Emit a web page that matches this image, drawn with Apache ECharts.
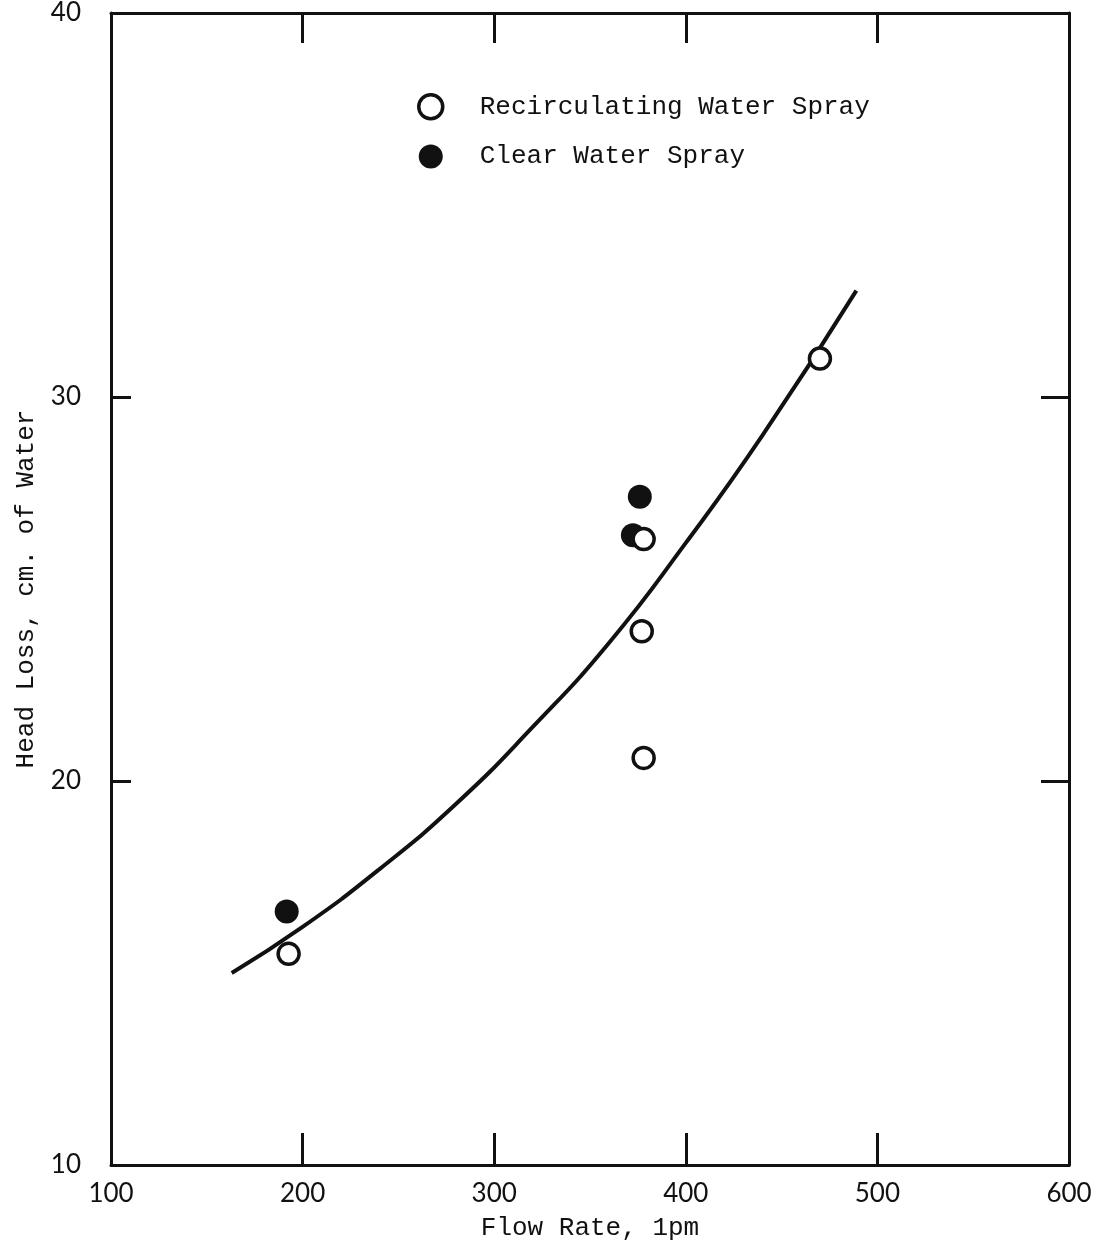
<!DOCTYPE html>
<html>
<head>
<meta charset="utf-8">
<script src="https://cdn.jsdelivr.net/npm/echarts@6/dist/echarts.min.js"></script>
<style>
html,body{margin:0;padding:0;background:#fff;}
#chart{width:1103px;height:1251px;}
</style>
</head>
<body>
<div id="chart"></div>
<script>
// ---- data ----
var xTicks = [100, 200, 300, 400, 500, 600];
var yTicks = [10, 20, 30, 40];
var recircX = [192.7, 378, 377, 378, 470];
var recircY = [15.5, 26.3, 23.9, 20.6, 31.0];
var clearX = [191.7, 376, 372.4];
var clearY = [16.6, 27.4, 26.4];
var curveX = [163, 200, 240, 280, 320, 360, 400, 440, 489];
var curveY = [15.0, 16.2, 17.7, 19.4, 21.4, 23.6, 26.2, 29.0, 32.77];
var seriesNames = ['Recirculating Water Spray', 'Clear Water Spray'];
var xTitle = 'Flow Rate, 1pm';
var yTitle = 'Head Loss, cm. of Water';

function pairs(xs, ys){ return xs.map(function(x,i){ return [x, ys[i]]; }); }

var mono = '"Liberation Mono","Courier New","DejaVu Sans Mono",monospace';
var sans = 'Lato,"Open Sans","DejaVu Sans",sans-serif';
var ink = '#111';

var chart = echarts.init(document.getElementById('chart'), null, {renderer:'canvas'});
chart.setOption({
  animation:false,
  backgroundColor:'#fff',
  grid:{left:111, right:34, top:13, bottom:86, containLabel:false},
  legend:{
    orient:'vertical', left:412, top:88, itemGap:23,
    itemWidth:24, itemHeight:24,
    data:[
      {name:seriesNames[0], icon:'circle', itemStyle:{color:'#fff', borderColor:ink, borderWidth:3.5}},
      {name:seriesNames[1], icon:'circle', itemStyle:{color:ink, borderWidth:0}}
    ],
    textStyle:{fontFamily:mono, fontSize:26, color:ink, padding:[0,0,0,32]}
  },
  xAxis:[
    {type:'value', position:'bottom', min:100, max:600, interval:100,
     name:xTitle, nameLocation:'middle', nameGap:50,
     nameTextStyle:{fontFamily:mono, fontSize:26, color:ink},
     axisLine:{show:true, onZero:false, lineStyle:{color:ink, width:3}},
     axisTick:{show:true, inside:true, length:32, lineStyle:{color:ink, width:3}},
     axisLabel:{show:true, margin:16, fontFamily:sans, fontSize:26, color:ink,
       formatter:function(v){ return xTicks.indexOf(v) >= 0 ? String(v) : ''; }},
     splitLine:{show:false}},
    {type:'value', position:'top', min:100, max:600, interval:100,
     axisLine:{show:true, onZero:false, lineStyle:{color:ink, width:3}},
     axisTick:{show:true, inside:true, length:30, lineStyle:{color:ink, width:3}},
     axisLabel:{show:false}, splitLine:{show:false}}
  ],
  yAxis:[
    {type:'value', position:'left', min:10, max:40, interval:10,
     name:yTitle, nameLocation:'middle', nameGap:72, nameRotate:90,
     nameTextStyle:{fontFamily:mono, fontSize:26, color:ink},
     axisLine:{show:true, onZero:false, lineStyle:{color:ink, width:3}},
     axisTick:{show:true, inside:true, length:20, lineStyle:{color:ink, width:3}},
     axisLabel:{show:true, margin:30, fontFamily:sans, fontSize:26, color:ink,
       formatter:function(v){ return yTicks.indexOf(v) >= 0 ? String(v) : ''; }},
     splitLine:{show:false}},
    {type:'value', position:'right', min:10, max:40, interval:10,
     axisLine:{show:true, onZero:false, lineStyle:{color:ink, width:3}},
     axisTick:{show:true, inside:true, length:28, lineStyle:{color:ink, width:3}},
     axisLabel:{show:false}, splitLine:{show:false}}
  ],
  series:[
    {type:'line', name:'fit', data:pairs(curveX, curveY), smooth:0.5,
     showSymbol:false, symbol:'none', lineStyle:{color:ink, width:4}, z:2},
    {type:'scatter', name:seriesNames[1], data:pairs(clearX, clearY), symbol:'circle', symbolSize:24,
     itemStyle:{color:ink, opacity:1}, z:3},
    {type:'scatter', name:seriesNames[0], data:pairs(recircX, recircY), symbol:'circle', symbolSize:21,
     itemStyle:{color:'#fff', borderColor:ink, borderWidth:3.5, opacity:1}, z:4}
  ]
});
</script>
</body>
</html>
